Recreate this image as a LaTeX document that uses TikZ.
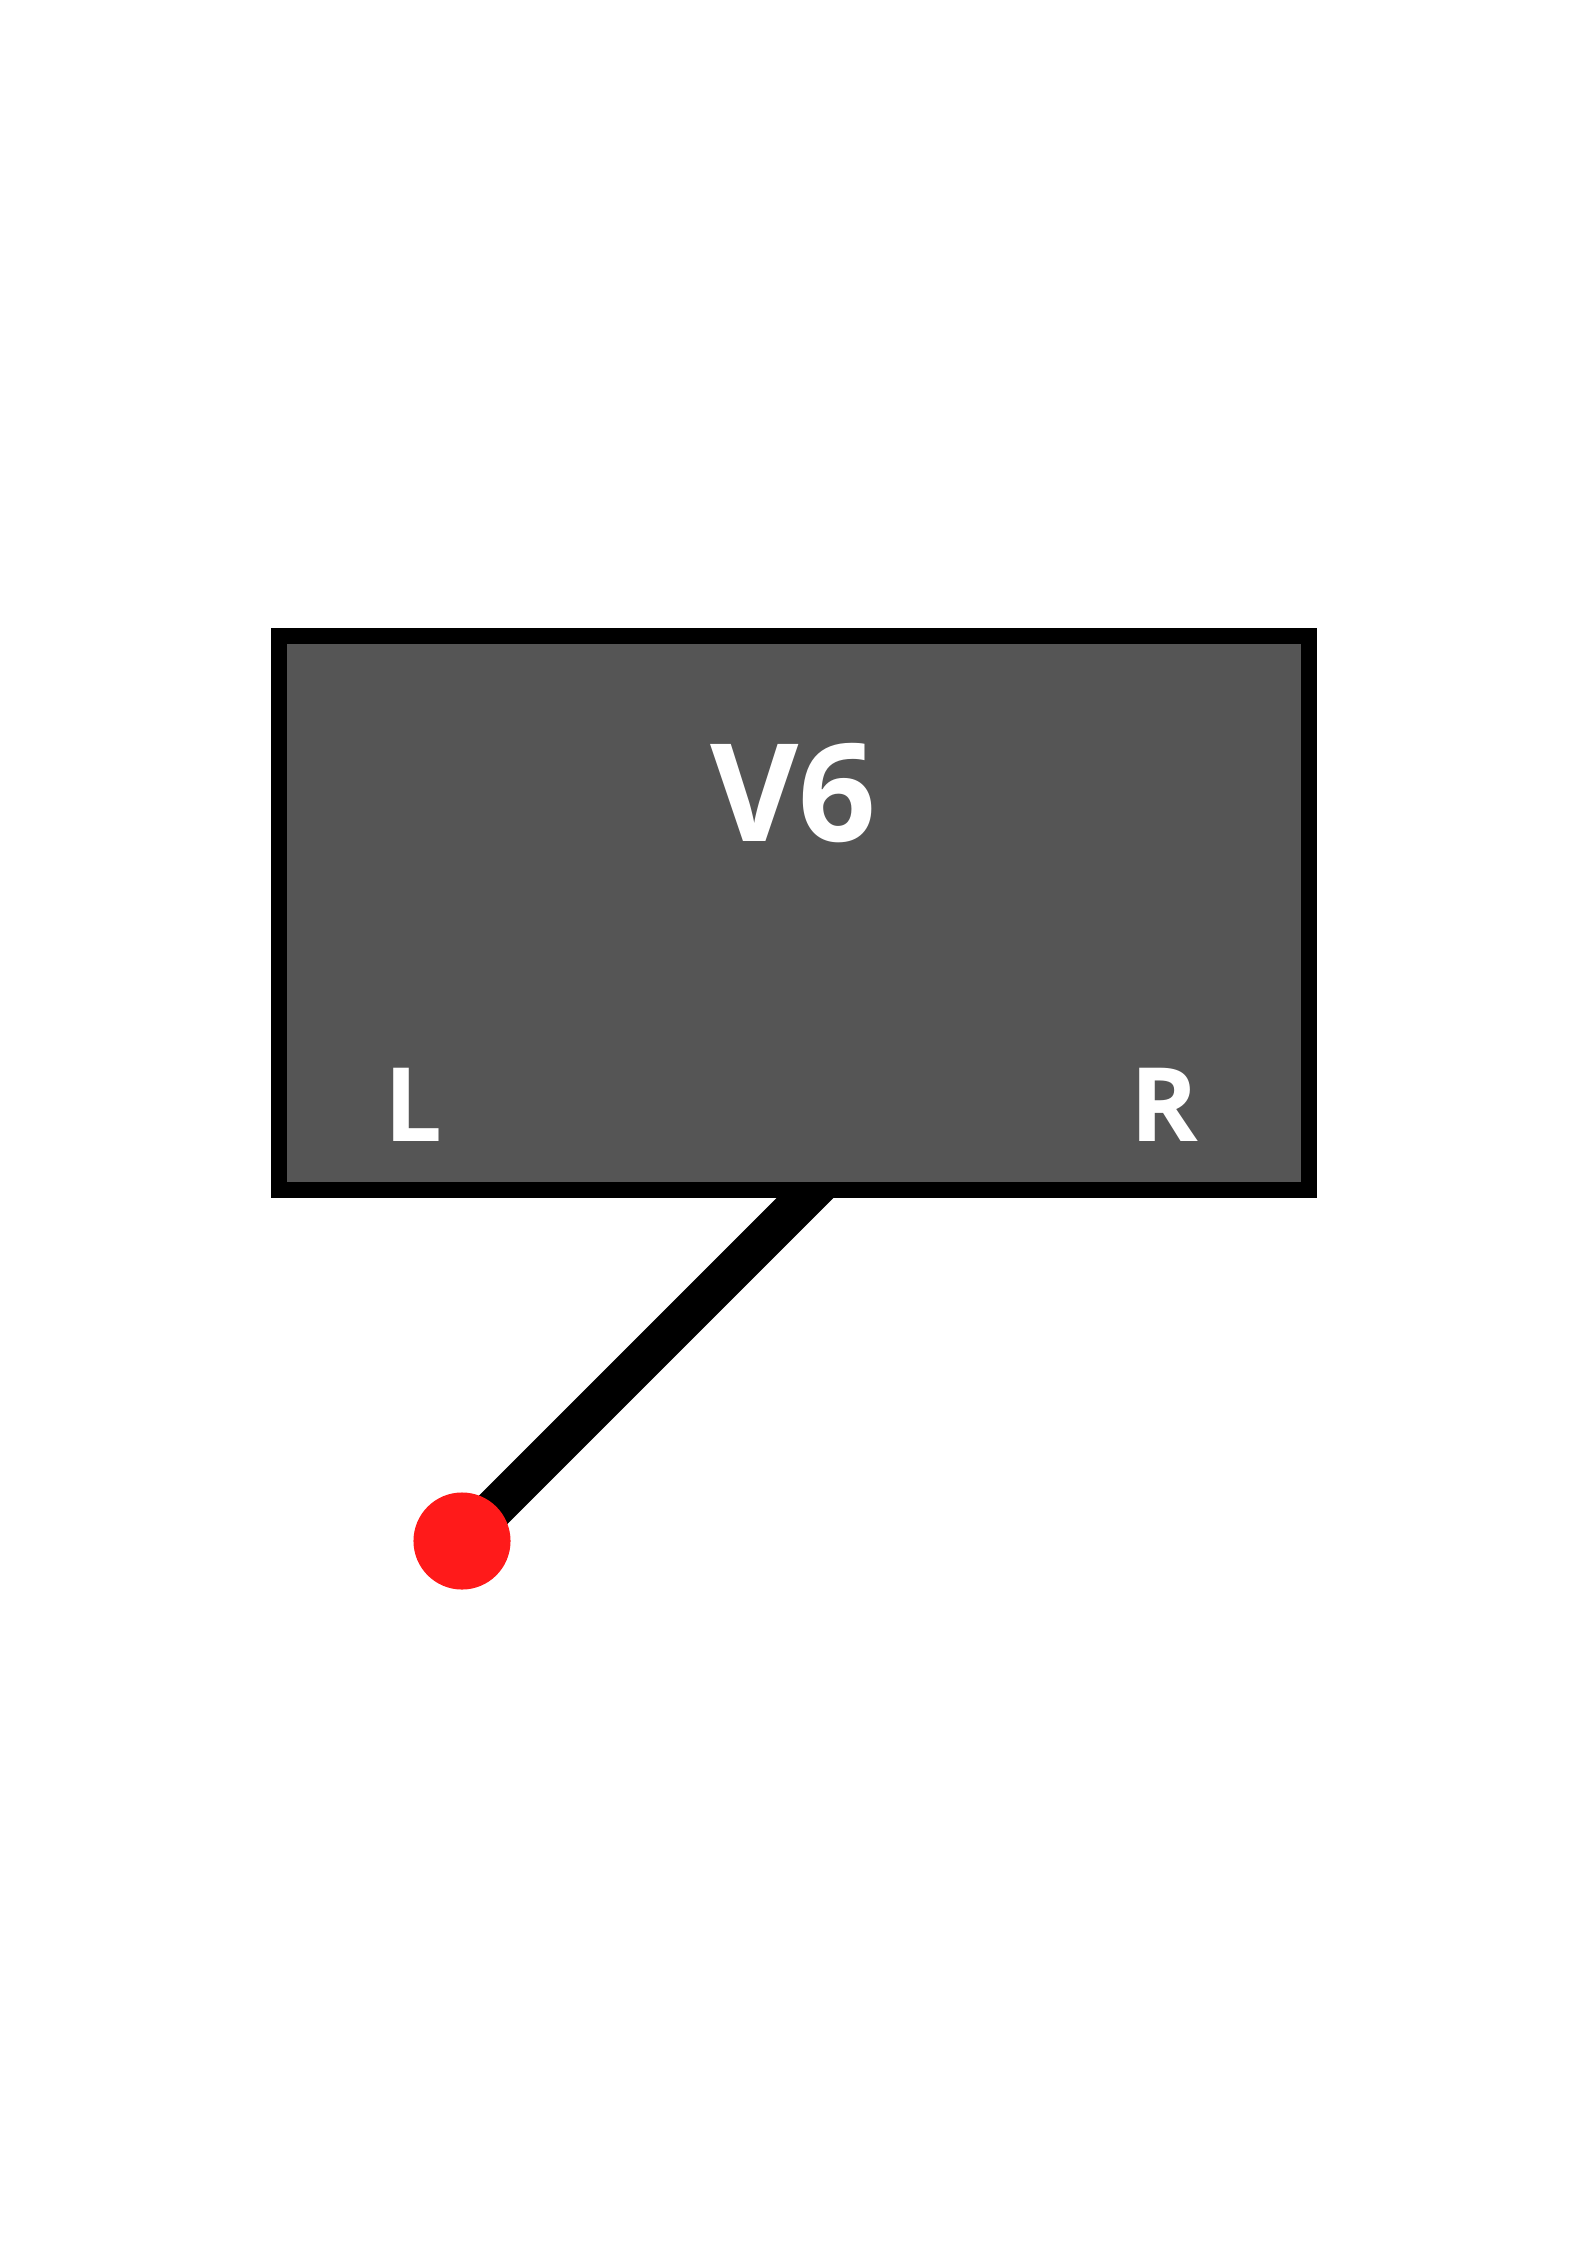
\documentclass[tikz,border=0pt]{standalone}
\usepackage{fontspec}
\setmainfont{Open Sans}
\usetikzlibrary{positioning,backgrounds}
\definecolor{boxgray}{RGB}{85,85,85}
\definecolor{dotred}{RGB}{255,26,26}
\begin{document}
\begin{tikzpicture}[x=0.375pt,y=-0.375pt]
                        \tikzstyle{every node}=[inner sep=0]
                        \tikzstyle{chip}=[draw=black,fill=boxgray,line width=5.8pt,minimum width=386.25pt,minimum height=207.75pt]
                        \tikzstyle{bigtext}=[text=white,font=\bfseries\fontsize{51}{60}\selectfont,anchor=base]
                        \tikzstyle{sidetext}=[text=white,font=\bfseries\fontsize{38.5}{46}\selectfont,anchor=base]
                        \tikzstyle{reddot}=[circle,fill=dotred,minimum size=36.4pt]
                        \tikzstyle{wire}=[line width=15pt]
                        {
                            \useasboundingbox (0,0) rectangle (1587,2245);
                            \node[chip] (v6) at (794,913) {};
                            \node[bigtext] (name) at (793.5,841) {V6};
                            \node[sidetext] (left) at (413.5,1141) {L};
                            \node[sidetext] (right) at (1164.5,1141) {R};
                            \node[reddot] (d1) at (462,1541) {};
                            \coordinate (tap) at (833,1170);
                            \begin{scope}[on background layer]
                                \path[wire]
                                    (d1.center) edge (tap);
                            \end{scope}
                        }
                    \end{tikzpicture}
\end{document}
